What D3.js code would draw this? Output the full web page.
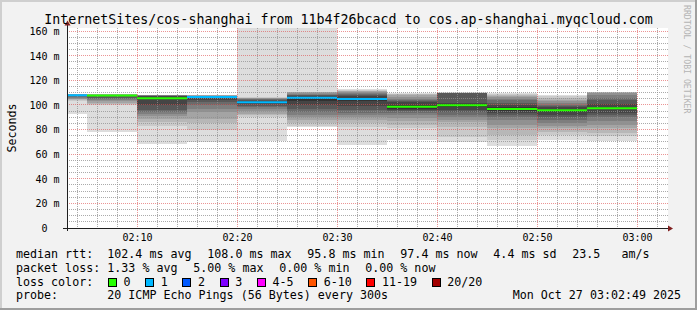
<!DOCTYPE html>
<meta charset="utf-8">
<style>
body { margin: 0; background: #f2f2f2; }
svg { display: block; font-family: "DejaVu Sans Mono", monospace; }
</style>
<script src="https://cdn.jsdelivr.net/npm/d3@7"></script>
<body>
<script>
// end time of each 300s step
var stepEnds = ["02:05", "02:10", "02:15", "02:20", "02:25", "02:30",
                "02:35", "02:40", "02:45", "02:50", "02:55", "03:00"];
// median rtt per step (ms)
var medians = [108.0, 107.8, 105.5, 106.5, 102.3, 105.8, 104.9, 98.5, 99.8, 96.7, 95.8, 97.4];
// packet loss per step (%)
var lossPct = [5, 0, 0, 5, 2.5, 2.5, 1, 0, 0, 0, 0, 0];
// 20 sorted ping rtts per step (ms), drawn as smoke
var pings = [
  [93, 103, 103.8, 104.5, 105.2, 105.8, 106.4, 107, 107.5, 107.8, 108.1, 108.2, 108.3, 108.4, 108.5, 108.6, 108.6, 108.7, 108.7, 108.8],
  [78, 99.8, 101, 102, 103, 104, 105, 106, 107, 107.6, 108, 108.1, 108.2, 108.3, 108.4, 108.5, 108.6, 108.7, 108.8, 108.9],
  [68, 83, 86, 89, 91, 93, 94.5, 95.8, 100, 104.5, 106.5, 107, 107.3, 107.6, 107.8, 108, 108.1, 108.2, 108.3, 108.5],
  [70, 80, 85, 89, 94, 97, 100, 102.5, 104, 105.5, 107, 107.2, 107.4, 107.5, 107.6, 107.7, 107.8, 107.9, 108, 108.2],
  [70.7, 90.5, 91.7, 93, 95, 97, 98, 99.5, 100.5, 101.5, 103, 103.5, 104, 104.5, 105, 105.5, 105.8, 106, 106.2, 200],
  [82, 83, 85, 87.7, 90, 92, 94, 97, 100, 103.4, 106.3, 107, 107.8, 108.5, 109.2, 109.8, 110.3, 110.6, 110.8, 200],
  [67.4, 82, 85, 88, 90, 91.7, 93.5, 95.8, 99, 103.5, 106, 107, 108, 109, 109.8, 110.4, 111, 111.5, 112, 112.9],
  [71.5, 81, 84, 87, 89.5, 91.7, 93.5, 95, 95.8, 97, 100, 102.5, 103.2, 103.9, 105, 106.5, 108, 109, 109.3, 109.6],
  [70.1, 74.2, 82.3, 86.3, 88, 90, 92, 94, 95.8, 98.5, 100.5, 101.5, 109.6, 109.8, 109.9, 110, 110.05, 110.1, 110.15, 110.2],
  [66.9, 71.5, 76, 81, 84, 87.7, 90, 92, 93.5, 95.5, 98, 100, 102, 103.9, 105.2, 106.6, 107.5, 108.3, 109, 109.6],
  [71.5, 75.5, 78, 81, 83, 85, 87.5, 90, 92, 94.5, 96.5, 98, 99, 99.8, 101.5, 103, 103.9, 105.5, 107, 107.9],
  [70.7, 75, 76.9, 81, 84, 87, 90, 92, 93.5, 96.5, 98.5, 101, 103.9, 106, 108, 109.5, 110, 110.2, 110.3, 110.4]
];
var yTicks = [0, 20, 40, 60, 80, 100, 120, 140, 160];
var lossLabels = ["0", "1", "2", "3", "4-5", "6-10", "11-19", "20/20"];
var lossLimits = [0, 1, 2, 3, 5, 10, 19, 20];  // lost pings (of 20)
var lossColors = ["#26ff00", "#00b8ff", "#0059ff", "#7e00ff", "#ff00ff", "#ff5500", "#ff0000", "#a10000"];

var W = 697, H = 310;
var parseT = d3.timeParse("%H:%M");
var x = d3.scaleTime().domain([parseT("02:03"), parseT("03:03")]).range([67, 667]);
var y = d3.scaleLinear().domain([0, 162.6]).range([228, 28]);

var svg = d3.select("body").append("svg").attr("width", W).attr("height", H);

// background and 3d frame
svg.append("rect").attr("width", W).attr("height", H).attr("fill", "#f2f2f2");
svg.append("rect").attr("width", W).attr("height", 2).attr("fill", "#cfcfcf");
svg.append("rect").attr("width", 2).attr("height", H).attr("fill", "#cfcfcf");
svg.append("rect").attr("y", H - 2).attr("width", W).attr("height", 2).attr("fill", "#9e9e9e");
svg.append("rect").attr("x", W - 2).attr("width", 2).attr("height", H).attr("fill", "#9e9e9e");

// canvas
svg.append("rect").attr("x", 67).attr("y", 28).attr("width", 601).attr("height", 200).attr("fill", "#fff");
svg.append("clipPath").attr("id", "plot")
  .append("rect").attr("x", 67).attr("y", 28).attr("width", 601).attr("height", 200);

var steps = stepEnds.map(function(t, i) {
  var end = parseT(t);
  return { start: d3.timeMinute.offset(end, -5), end: end, med: medians[i], loss: lossPct[i], p: pings[i] };
});

// smoke: pair (k, n-1-k) drawn from outside in, darker toward the median
var smoke = svg.append("g").attr("clip-path", "url(#plot)").attr("shape-rendering", "crispEdges");
steps.forEach(function(s) {
  var n = s.p.length, half = n / 2;
  for (var k = 0; k < half; k++) {
    var c = Math.floor(190 / half * (half - k - 1)) + 50;
    smoke.append("rect")
      .attr("x", x(s.start))
      .attr("width", x(s.end) - x(s.start))
      .attr("y", y(s.p[n - 1 - k]))
      .attr("height", y(s.p[k]) - y(s.p[n - 1 - k]))
      .attr("fill", d3.rgb(c, c, c));
  }
});

// grid
var grid = svg.append("g").attr("shape-rendering", "crispEdges").attr("stroke-dasharray", "1,1");
var minorY = d3.range(5, 162, 5).filter(function(v) { return v % 20 != 0; });
grid.selectAll("line.hmin").data(minorY).enter().append("line")
  .attr("x1", 67).attr("x2", 668)
  .attr("y1", function(d) { return Math.floor(y(d)) + 0.5; })
  .attr("y2", function(d) { return Math.floor(y(d)) + 0.5; })
  .attr("stroke", "rgba(143,143,143,0.75)");
var minorX = x.ticks(d3.timeMinute.every(2)).filter(function(d) { return d.getMinutes() % 10 != 0; });
grid.selectAll("line.vmin").data(minorX).enter().append("line")
  .attr("y1", 28).attr("y2", 228)
  .attr("x1", function(d) { return Math.round(x(d)) + 0.5; })
  .attr("x2", function(d) { return Math.round(x(d)) + 0.5; })
  .attr("stroke", "rgba(143,143,143,0.75)");
grid.selectAll("line.hmaj").data(yTicks.slice(1)).enter().append("line")
  .attr("x1", 67).attr("x2", 668)
  .attr("y1", function(d) { return Math.floor(y(d)) + 0.5; })
  .attr("y2", function(d) { return Math.floor(y(d)) + 0.5; })
  .attr("stroke", "rgba(222,79,79,0.6)");
grid.selectAll("line.vmaj").data(x.ticks(d3.timeMinute.every(10))).enter().append("line")
  .attr("y1", 28).attr("y2", 228)
  .attr("x1", function(d) { return Math.round(x(d)) + 0.5; })
  .attr("x2", function(d) { return Math.round(x(d)) + 0.5; })
  .attr("stroke", "rgba(222,79,79,0.6)");

// median line coloured by loss
function lossColor(pct) {
  var lost = pct * 20 / 100;
  for (var i = 0; i < lossLimits.length; i++) if (lost <= lossLimits[i]) return lossColors[i];
  return lossColors[lossColors.length - 1];
}
svg.append("g").attr("clip-path", "url(#plot)").selectAll("line").data(steps).enter().append("line")
  .attr("x1", function(d) { return x(d.start); })
  .attr("x2", function(d) { return x(d.end); })
  .attr("y1", function(d) { return y(d.med); })
  .attr("y2", function(d) { return y(d.med); })
  .attr("stroke", function(d) { return lossColor(d.loss); })
  .attr("stroke-width", 2);

// axes
var ax = svg.append("g").attr("shape-rendering", "crispEdges").attr("stroke", "#1f1f1f");
ax.append("line").attr("x1", 63).attr("x2", 668).attr("y1", 228.5).attr("y2", 228.5);
ax.append("line").attr("x1", 67.5).attr("x2", 67.5).attr("y1", 231).attr("y2", 25);
svg.append("path").attr("d", "M64.5,25.5L70.5,25.5L67.5,20.5Z").attr("fill", "#801f1f");
svg.append("path").attr("d", "M668,225.5L668,231.5L673,228.5Z").attr("fill", "#801f1f");

var xAxis = svg.append("g").attr("transform", "translate(0,228)")
  .call(d3.axisBottom(x).ticks(d3.timeMinute.every(10)).tickFormat(d3.timeFormat("%H:%M")).tickSize(0).tickPadding(6));
var yAxis = svg.append("g").attr("transform", "translate(67,0)")
  .call(d3.axisLeft(y).tickValues(yTicks).tickFormat(function(v) { return v ? v + " m" : "0  "; }).tickSize(0).tickPadding(7.5));
[xAxis, yAxis].forEach(function(g) {
  g.select(".domain").remove();
  g.attr("font-family", "DejaVu Sans Mono").attr("font-size", 10);
  g.selectAll("text").attr("fill", "#000").attr("xml:space", "preserve");
});

// titles
svg.append("text").attr("x", 348.5).attr("y", 24).attr("text-anchor", "middle")
  .attr("font-size", 13.3)
  .text("InternetSites/cos-shanghai from 11b4f26bcacd to cos.ap-shanghai.myqcloud.com");
svg.append("text").attr("transform", "translate(15.5,128) rotate(-90)").attr("text-anchor", "middle")
  .attr("font-size", 11.66).text("Seconds");
svg.append("text").attr("transform", "translate(684,5) rotate(90)")
  .attr("font-size", 8.2).attr("fill", "#b4b4b4").text("RRDTOOL / TOBI OETIKER");

// legend
var f1 = d3.format(".1f"), f2 = d3.format(".2f");
var avg = d3.mean(medians);
var sd = Math.sqrt(d3.mean(medians, function(v) { return (v - avg) * (v - avg); }));
var leg = svg.append("g").attr("font-size", 11.66).attr("fill", "#000");
var gap = 15.8;
function row(yp, head, items) {
  leg.append("text").attr("x", 16).attr("y", yp).text(head);
  var cx = 107.3;
  items.forEach(function(s) {
    var t = leg.append("text").attr("x", cx).attr("y", yp).attr("xml:space", "preserve").text(s);
    cx += t.node().getComputedTextLength() + gap;
  });
}
row(258, "median rtt:", [
  f1(avg) + " ms avg", f1(d3.max(medians)) + " ms max", f1(d3.min(medians)) + " ms min",
  f1(medians[medians.length - 1]) + " ms now", f1(sd) + " ms sd", f1(avg / sd) + "   am/s"]);
row(271.8, "packet loss:", [
  f2(d3.mean(lossPct)) + " % avg", f2(d3.max(lossPct)) + " % max",
  f2(d3.min(lossPct)) + " % min", f2(lossPct[lossPct.length - 1]) + " % now"]);
leg.append("text").attr("x", 16).attr("y", 285.6).text("loss color:");
var cx = 108.5;
lossLabels.forEach(function(l, i) {
  leg.append("rect").attr("x", cx).attr("y", 278).attr("width", 8).attr("height", 8)
    .attr("fill", lossColors[i]).attr("stroke", "#000").attr("shape-rendering", "crispEdges");
  var t = leg.append("text").attr("x", cx + 15).attr("y", 285.6).text(l);
  cx = cx + 15 + t.node().getComputedTextLength() + 15.2;
});
row(299.4, "probe:", ["20 ICMP Echo Pings (56 Bytes) every 300s"]);
leg.append("text").attr("x", 512.7).attr("y", 299.4).text("Mon Oct 27 03:02:49 2025");
</script>
</body>
